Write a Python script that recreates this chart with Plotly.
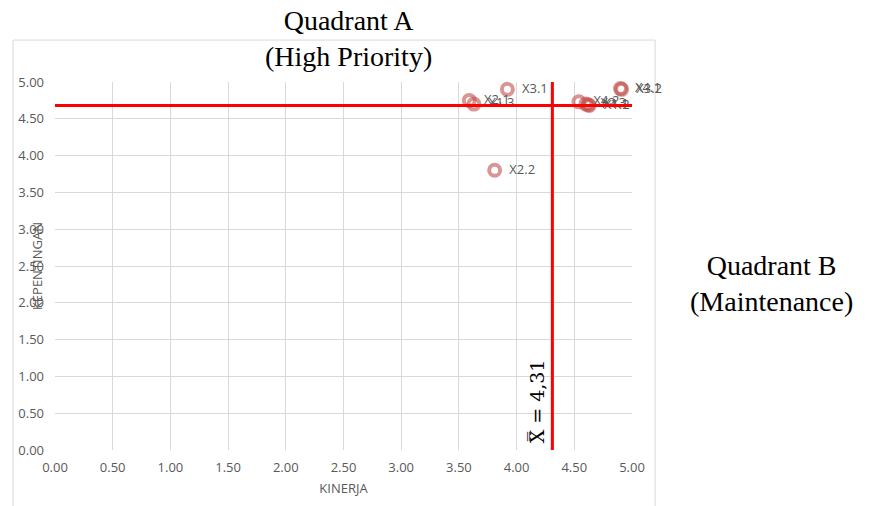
import plotly.graph_objects as go

# Data
labels = ["X1.1", "X1.2", "X1.3", "X2.1", "X2.2", "X2.3", "X3.1", "X3.2", "X4.1", "X4.2"]
kinerja = [4.62, 4.63, 3.63, 3.59, 3.81, 4.60, 3.92, 4.91, 4.90, 4.54]
kepentingan = [4.69, 4.68, 4.70, 4.75, 3.80, 4.70, 4.90, 4.90, 4.91, 4.73]
x_mean = 4.31
y_mean = 4.68
x_ticks = [0, 0.5, 1, 1.5, 2, 2.5, 3, 3.5, 4, 4.5, 5]
y_ticks = [0, 0.5, 1, 1.5, 2, 2.5, 3, 3.5, 4, 4.5, 5]

grey = "#595959"
sans = "Open Sans, Liberation Sans, sans-serif"
fig = go.Figure()
fig.add_trace(go.Scatter(
    x=kinerja, y=kepentingan, mode="markers+text", text=labels,
    texttemplate="\u00a0\u00a0%{text}",
    textposition="middle right",
    textfont=dict(family=sans, size=13, color=grey),
    marker=dict(symbol="circle", size=11, color="rgba(0,0,0,0)",
                line=dict(width=4, color="rgba(192,80,77,0.6)")),
    cliponaxis=False, showlegend=False,
))

# mean lines
fig.add_shape(type="line", xref="x", yref="y", x0=0, x1=5, y0=y_mean, y1=y_mean,
              line=dict(color="#ff0000", width=3), layer="above")
fig.add_shape(type="line", xref="x", yref="y", x0=x_mean, x1=x_mean, y0=0, y1=5.03,
              line=dict(color="#ff0000", width=3), layer="above")

# chart area border
fig.add_shape(type="rect", xref="paper", yref="paper", x0=-0.0728, x1=1.04, y0=-0.25, y1=1.114,
              line=dict(color="#d9d9d9", width=1), layer="below")

axis_common = dict(
    range=[0, 5], dtick=0.5, tickformat=".2f", showgrid=True, gridcolor="#d9d9d9",
    gridwidth=1, zeroline=False, showline=False, ticks="", automargin=False,
    tickfont=dict(family=sans, size=13, color=grey),
)
fig.update_xaxes(**axis_common, tickvals=x_ticks, ticklabelstandoff=8,
                 title=dict(text="KINERJA", font=dict(family=sans, size=13, color=grey), standoff=8))
fig.update_yaxes(**axis_common, tickvals=y_ticks, ticklabelstandoff=10)

fig.add_annotation(text="KEPENTINGAN", xref="paper", yref="paper", x=-0.031, y=0.5,
                   xanchor="center", yanchor="middle",
                   textangle=-90, showarrow=False,
                   font=dict(family=sans, size=13, color=grey))
fig.add_annotation(text="X\u033f = 4,31", xref="x", yref="paper", x=x_mean, xshift=-15,
                   y=(450 - 401) / 368, xanchor="center", yanchor="middle",
                   textangle=-90, showarrow=False,
                   font=dict(family="DejaVu Serif, Liberation Serif, serif", size=19, color="#000000"))
fig.add_annotation(text="Quadrant A<br>(High Priority)", xref="paper", yref="paper",
                   x=(348 - 55) / 577, y=(450 - 39) / 368, xanchor="center", yanchor="middle",
                   showarrow=False,
                   font=dict(family="Liberation Serif, serif", size=28, color="#000000"))
fig.add_annotation(text="Quadrant B<br>(Maintenance)", xref="paper", yref="paper",
                   x=(771 - 55) / 577, y=(450 - 283) / 368, xanchor="center", yanchor="middle",
                   showarrow=False,
                   font=dict(family="Liberation Serif, serif", size=28, color="#000000"))

fig.update_layout(
    width=861, height=498, margin=dict(l=47, r=237, t=74, b=56, autoexpand=False),
    plot_bgcolor="white", paper_bgcolor="white",
)
fig.write_html("out.html")
